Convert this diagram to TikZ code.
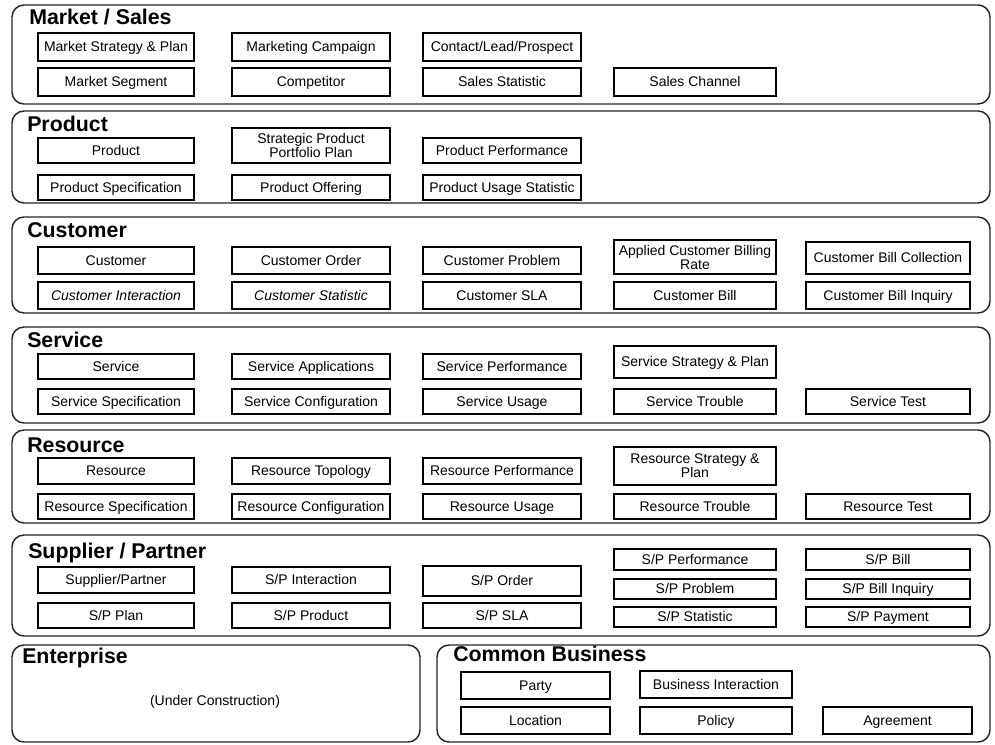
\documentclass[tikz,border=0pt]{standalone}
\usepackage{fontspec}
\setmainfont{Liberation Sans}
\begin{document}
\begin{tikzpicture}[x=0.75pt,y=-0.75pt]
\tikzset{
 panel/.style={draw=black!85, line width=1.1pt, rounded corners=9pt, inner sep=0pt},
 bxbase/.style={draw=black, line width=0.9pt, inner sep=0pt, align=center, font=\fontsize{10.5}{10.5}\selectfont},
 bx/.style={bxbase, text height=7.8pt, text depth=1pt},
 bxii/.style={bxbase},
 ttl/.style={anchor=base west, inner sep=0pt, font=\fontsize{16}{17}\selectfont\bfseries},
 plain/.style={inner sep=0pt, font=\fontsize{10.5}{11}\selectfont},
}
\newcommand\mybox[7][bx]{\node[#1, minimum width={(#5-#3)*0.75pt}, minimum height={(#6-#4)*0.75pt}] (#2) at ({(#3+#5)/2},{(#4+#6)/2}) {#7};}
\newcommand\mypanel[5]{\node[panel, minimum width={(#4-#2)*0.75pt}, minimum height={(#5-#3)*0.75pt}] (#1) at ({(#2+#4)/2},{(#3+#5)/2}) {};}
\useasboundingbox[fill=white] (0,0) rectangle (995,745);

% panels
\mypanel{pms}{12}{5}{990}{104}
\mypanel{ppr}{12}{111}{990}{203}
\mypanel{pcu}{12}{217}{990}{313}
\mypanel{pse}{12}{327}{990}{423}
\mypanel{pre}{12}{430}{990}{523}
\mypanel{psp}{12}{535}{990}{636}
\mypanel{pen}{12}{645}{420}{742}
\mypanel{pcb}{437}{645}{990}{742}

% titles
\node[ttl] (tms) at (29,25) {Market / Sales};
\node[ttl] (tpr) at (27,132) {Product};
\node[ttl] (tcu) at (27,238) {Customer};
\node[ttl] (tse) at (27,347) {Service};
\node[ttl] (tre) at (27,452) {Resource};
\node[ttl] (tsp) at (28,558) {Supplier / Partner};
\node[ttl] (ten) at (22,663) {Enterprise};
\node[ttl] (tcb) at (453,661) {Common Business};

% Market / Sales
\mybox{m1}{38}{33}{194}{61}{Market Strategy \& Plan}
\mybox{m2}{232}{33}{390}{61}{Marketing Campaign}
\mybox{m3}{423}{33}{581}{61}{Contact/Lead/Prospect}
\mybox{m4}{38}{68}{194}{96}{Market Segment}
\mybox{m5}{232}{68}{390}{96}{Competitor}
\mybox{m6}{423}{68}{581}{96}{Sales Statistic}
\mybox{m7}{614}{68}{776}{96}{Sales Channel}

% Product
\mybox{p1}{38}{138}{194}{163}{Product}
\mybox[bxii]{p2}{232}{128}{390}{163}{Strategic Product\\Portfolio Plan}
\mybox{p3}{423}{138}{581}{163}{Product Performance}
\mybox{p4}{38}{175}{194}{200}{Product Specification}
\mybox{p5}{232}{175}{390}{200}{Product Offering}
\mybox{p6}{423}{175}{581}{200}{Product Usage Statistic}

% Customer
\mybox{c1}{38}{247}{194}{274}{Customer}
\mybox{c2}{232}{247}{390}{274}{Customer Order}
\mybox{c3}{423}{247}{581}{274}{Customer Problem}
\mybox[bxii]{c4}{614}{240}{776}{274}{Applied Customer Billing\\Rate}
\mybox{c5}{806}{242}{970}{274}{Customer Bill Collection}
\mybox{c6}{38}{282}{194}{309}{\itshape Customer Interaction}
\mybox{c7}{232}{282}{390}{309}{\itshape Customer Statistic}
\mybox{c8}{423}{282}{581}{309}{Customer SLA}
\mybox{c9}{614}{282}{776}{309}{Customer Bill}
\mybox{c10}{806}{282}{970}{309}{Customer Bill Inquiry}

% Service
\mybox{s1}{38}{354}{194}{379}{Service}
\mybox{s2}{232}{354}{390}{379}{Service Applications}
\mybox{s3}{423}{354}{581}{379}{Service Performance}
\mybox{s4}{614}{346}{776}{378}{Service Strategy \& Plan}
\mybox{s5}{38}{389}{194}{414}{Service Specification}
\mybox{s6}{232}{389}{390}{414}{Service Configuration}
\mybox{s7}{423}{389}{581}{414}{Service Usage}
\mybox{s8}{614}{389}{776}{414}{Service Trouble}
\mybox{s9}{806}{389}{970}{414}{Service Test}

% Resource
\mybox{r1}{38}{458}{194}{484}{Resource}
\mybox{r2}{232}{458}{390}{484}{Resource Topology}
\mybox{r3}{423}{458}{581}{484}{Resource Performance}
\mybox[bxii]{r4}{614}{447}{776}{485}{Resource Strategy \&\\Plan}
\mybox{r5}{38}{494}{194}{519}{Resource Specification}
\mybox{r6}{232}{494}{390}{519}{Resource Configuration}
\mybox{r7}{423}{494}{581}{519}{Resource Usage}
\mybox{r8}{614}{494}{776}{519}{Resource Trouble}
\mybox{r9}{806}{494}{970}{519}{Resource Test}

% Supplier / Partner
\mybox{sp1}{38}{567}{194}{593}{Supplier/Partner}
\mybox{sp2}{232}{567}{390}{593}{S/P Interaction}
\mybox{sp3}{423}{566}{581}{596}{S/P Order}
\mybox{sp4}{38}{603}{194}{628}{S/P Plan}
\mybox{sp5}{232}{603}{390}{628}{S/P Product}
\mybox{sp6}{423}{603}{581}{628}{S/P SLA}
\mybox{sp7}{614}{549}{776}{570}{S/P Performance}
\mybox{sp8}{614}{579}{776}{599}{S/P Problem}
\mybox{sp9}{614}{607}{776}{627}{S/P Statistic}
\mybox{sp10}{806}{549}{970}{570}{S/P Bill}
\mybox{sp11}{806}{579}{970}{599}{S/P Bill Inquiry}
\mybox{sp12}{806}{607}{970}{627}{S/P Payment}

% Enterprise
\node[plain] (uc) at (215,702) {(Under Construction)};

% Common Business
\mybox{cb1}{461}{672}{610}{699}{Party}
\mybox{cb2}{640}{671}{792}{698}{Business Interaction}
\mybox{cb3}{461}{707}{610}{734}{Location}
\mybox{cb4}{640}{707}{792}{734}{Policy}
\mybox{cb5}{823}{707}{972}{734}{Agreement}
\end{tikzpicture}
\end{document}
